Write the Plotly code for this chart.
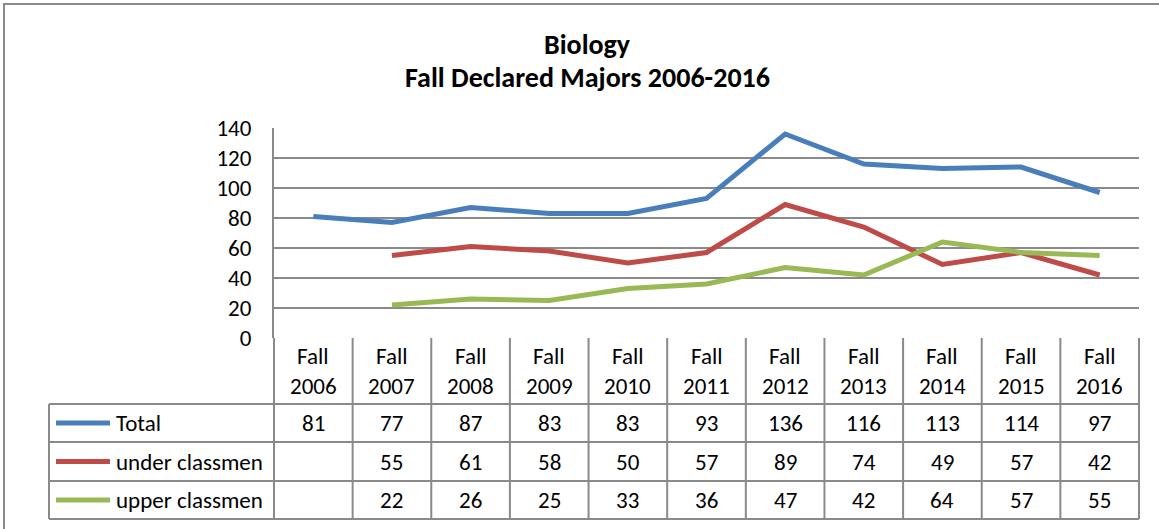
import plotly.graph_objects as go

W, H = 1159, 529

categories = ["Fall 2006", "Fall 2007", "Fall 2008", "Fall 2009", "Fall 2010", "Fall 2011",
              "Fall 2012", "Fall 2013", "Fall 2014", "Fall 2015", "Fall 2016"]
total = [81, 77, 87, 83, 83, 93, 136, 116, 113, 114, 97]
under_classmen = [None, 55, 61, 58, 50, 57, 89, 74, 49, 57, 42]
upper_classmen = [None, 22, 26, 25, 33, 36, 47, 42, 64, 57, 55]
series_names = ["Total", "under classmen", "upper classmen"]
series_colors = ["#4A7EBB", "#BE4B48", "#98B954"]
y_ticks = [0, 20, 40, 60, 80, 100, 120, 140]
title_lines = ["Biology", "Fall Declared Majors 2006-2016"]

FONT = "Carlito, Calibri, 'Open Sans', sans-serif"
GRID = "#8a8a8a"
FS = 23

def px(x):
    return x / W

def py(y):
    return 1 - y / H

L, R, T, B = 274, 1139, 128, 338
table_rows = [404, 442, 481, 519]
legend_left = 49

xidx = list(range(len(categories)))
series = [total, under_classmen, upper_classmen]

fig = go.Figure()
for name, vals, col in zip(series_names, series, series_colors):
    fig.add_trace(go.Scatter(x=xidx, y=vals, mode="lines", name=name,
                             line=dict(color=col, width=5), connectgaps=False,
                             showlegend=False, hoverinfo="x+y+name"))

shapes = []
def hline(y, x0, x1):
    shapes.append(dict(type="line", xref="paper", yref="paper",
                       x0=px(x0), x1=px(x1), y0=py(y), y1=py(y),
                       line=dict(color=GRID, width=2)))

def vline(x, y0, y1):
    shapes.append(dict(type="line", xref="paper", yref="paper",
                       x0=px(x), x1=px(x), y0=py(y0), y1=py(y1),
                       line=dict(color=GRID, width=2)))

shapes.append(dict(type="rect", xref="paper", yref="paper",
                   x0=px(4), x1=px(W + 10), y0=py(H + 10), y1=py(4),
                   line=dict(color="#8a8a8a", width=2), layer="below"))

n = len(categories)
colw = (R - L) / n
for i in range(n + 1):
    vline(L + i * colw, B, table_rows[-1])
for y in table_rows:
    hline(y, legend_left, R)
vline(legend_left, table_rows[0], table_rows[-1])

annotations = []
def ann(text, x, y, xref="paper", xanchor="center", size=FS):
    annotations.append(dict(text=text, x=x, y=y, xref=xref, yref="paper",
                            xanchor=xanchor, yanchor="middle", showarrow=False,
                            font=dict(size=size, color="black", family=FONT)))

ann("<b>%s</b>" % title_lines[0], px(587), py(44), size=28)
ann("<b>%s</b>" % title_lines[1], px(587), py(77), size=28)

for i, c in enumerate(categories):
    a, b = c.split(" ")
    ann(a, i, py(356), xref="x")
    ann(b, i, py(386), xref="x")

for r, (name, vals, col) in enumerate(zip(series_names, series, series_colors)):
    yc = (table_rows[r] + table_rows[r + 1]) / 2
    shapes.append(dict(type="line", xref="paper", yref="paper",
                       x0=px(56), x1=px(110), y0=py(yc), y1=py(yc),
                       line=dict(color=col, width=5)))
    ann(name, px(114), py(yc), xanchor="left")
    for i, v in enumerate(vals):
        if v is None:
            continue
        ann(str(v), i, py(yc), xref="x")

fig.update_layout(
    width=W, height=H, autosize=False,
    margin=dict(l=0, r=0, t=0, b=0, pad=0),
    paper_bgcolor="white", plot_bgcolor="white",
    shapes=shapes, annotations=annotations,
    font=dict(family=FONT, size=FS, color="black"),
    xaxis=dict(domain=[px(L), px(R)], range=[-0.5, n - 0.5], showticklabels=False,
               showgrid=False, zeroline=False, showline=False, fixedrange=True,
               automargin=False),
    yaxis=dict(domain=[py(B), py(T)], range=[0, 140], tickvals=y_ticks,
               showgrid=True, gridcolor=GRID, gridwidth=2, zeroline=False,
               showline=True, linecolor=GRID, linewidth=2, automargin=False,
               ticks="", ticklabelstandoff=16, fixedrange=True,
               tickfont=dict(size=FS, color="black", family=FONT)),
)

fig.write_html("out.html", config={"displayModeBar": False},
               post_script="document.body.style.margin='0';")
